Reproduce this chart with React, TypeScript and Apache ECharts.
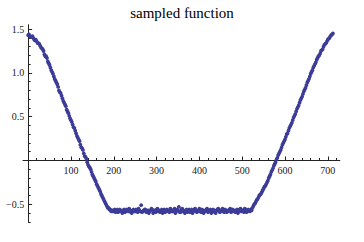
import React, { useEffect, useRef } from "react";
import * as echarts from "echarts";

const TITLE = "sampled function";

// first set of samples
const xValuesA = [
  0, 4, 8, 12, 16, 20, 24, 28, 32, 36, 40, 44, 48, 52, 56, 60, 64, 68, 72, 76,
  80, 84, 88, 92, 96, 100, 104, 108, 112, 116, 120, 124, 128, 132, 136, 140, 144, 148, 152, 156,
  160, 164, 168, 172, 176, 180, 184, 188, 192, 196, 200, 204, 208, 212, 216, 220, 224, 228, 232, 236,
  240, 244, 248, 252, 256, 260, 264, 268, 272, 276, 280, 284, 288, 292, 296, 300, 304, 308, 312, 316,
  320, 324, 328, 332, 336, 340, 344, 348, 352, 356, 360, 364, 368, 372, 376, 380, 384, 388, 392, 396,
  400, 404, 408, 412, 416, 420, 424, 428, 432, 436, 440, 444, 448, 452, 456, 460, 464, 468, 472, 476,
  480, 484, 488, 492, 496, 500, 504, 508, 512, 516, 520, 524, 528, 532, 536, 540, 544, 548, 552, 556,
  560, 564, 568, 572, 576, 580, 584, 588, 592, 596, 600, 604, 608, 612, 616, 620, 624, 628, 632, 636,
  640, 644, 648, 652, 656, 660, 664, 668, 672, 676, 680, 684, 688, 692, 696, 700, 704, 708, 712,
];
const yValuesA = [
  1.43, 1.42, 1.41, 1.40, 1.37, 1.36, 1.34, 1.31, 1.28, 1.25, 1.19, 1.17, 1.11, 1.06, 1.01, 0.96, 0.91, 0.87, 0.80, 0.77,
  0.71, 0.66, 0.62, 0.56, 0.51, 0.46, 0.41, 0.37, 0.31, 0.26, 0.22, 0.15, 0.12, 0.05, 0.02, -0.05, -0.08, -0.13, -0.18, -0.22,
  -0.27, -0.31, -0.35, -0.40, -0.44, -0.48, -0.52, -0.54, -0.56, -0.57, -0.57, -0.59, -0.56, -0.58, -0.57, -0.60, -0.56, -0.58, -0.57, -0.55,
  -0.59, -0.57, -0.58, -0.56, -0.59, -0.57, -0.51, -0.58, -0.56, -0.59, -0.57, -0.58, -0.55, -0.60, -0.57, -0.56, -0.58, -0.59, -0.56, -0.57,
  -0.59, -0.56, -0.58, -0.55, -0.58, -0.57, -0.60, -0.56, -0.53, -0.59, -0.55, -0.58, -0.57, -0.59, -0.56, -0.58, -0.60, -0.56, -0.57, -0.58,
  -0.55, -0.59, -0.57, -0.58, -0.56, -0.59, -0.57, -0.60, -0.56, -0.58, -0.57, -0.55, -0.59, -0.57, -0.58, -0.56, -0.59, -0.57, -0.55, -0.58,
  -0.57, -0.59, -0.56, -0.58, -0.55, -0.57, -0.59, -0.56, -0.58, -0.57, -0.56, -0.54, -0.50, -0.47, -0.44, -0.40, -0.38, -0.34, -0.30, -0.27,
  -0.23, -0.18, -0.13, -0.09, -0.04, 0.01, 0.06, 0.10, 0.15, 0.20, 0.24, 0.30, 0.34, 0.39, 0.43, 0.49, 0.53, 0.59, 0.63, 0.69,
  0.73, 0.79, 0.83, 0.89, 0.93, 0.99, 1.03, 1.08, 1.12, 1.17, 1.20, 1.25, 1.27, 1.32, 1.34, 1.38, 1.40, 1.43, 1.45,
];

// second, interleaved set of samples
const xValuesB = [
  2, 6, 10, 14, 18, 22, 26, 30, 34, 38, 42, 46, 50, 54, 58, 62, 66, 70, 74, 78,
  82, 86, 90, 94, 98, 102, 106, 110, 114, 118, 122, 126, 130, 134, 138, 142, 146, 150, 154, 158,
  162, 166, 170, 174, 178, 182, 186, 190, 194, 198, 202, 206, 210, 214, 218, 222, 226, 230, 234, 238,
  242, 246, 250, 254, 258, 262, 266, 270, 274, 278, 282, 286, 290, 294, 298, 302, 306, 310, 314, 318,
  322, 326, 330, 334, 338, 342, 346, 350, 354, 358, 362, 366, 370, 374, 378, 382, 386, 390, 394, 398,
  402, 406, 410, 414, 418, 422, 426, 430, 434, 438, 442, 446, 450, 454, 458, 462, 466, 470, 474, 478,
  482, 486, 490, 494, 498, 502, 506, 510, 514, 518, 522, 526, 530, 534, 538, 542, 546, 550, 554, 558,
  562, 566, 570, 574, 578, 582, 586, 590, 594, 598, 602, 606, 610, 614, 618, 622, 626, 630, 634, 638,
  642, 646, 650, 654, 658, 662, 666, 670, 674, 678, 682, 686, 690, 694, 698, 702, 706, 710,
];
const yValuesB = [
  1.44, 1.41, 1.42, 1.38, 1.38, 1.34, 1.33, 1.29, 1.27, 1.21, 1.19, 1.13, 1.09, 1.03, 0.99, 0.93, 0.89, 0.84, 0.78, 0.74,
  0.68, 0.64, 0.58, 0.54, 0.48, 0.44, 0.38, 0.34, 0.28, 0.24, 0.18, 0.14, 0.08, 0.04, -0.02, -0.07, -0.10, -0.16, -0.20, -0.24,
  -0.29, -0.33, -0.38, -0.42, -0.46, -0.50, -0.54, -0.56, -0.58, -0.58, -0.56, -0.58, -0.59, -0.56, -0.58, -0.57, -0.59, -0.56, -0.58, -0.57,
  -0.60, -0.56, -0.58, -0.57, -0.55, -0.58, -0.59, -0.57, -0.56, -0.58, -0.60, -0.57, -0.56, -0.58, -0.59, -0.55, -0.57, -0.58, -0.60, -0.56,
  -0.58, -0.57, -0.59, -0.56, -0.58, -0.55, -0.58, -0.57, -0.59, -0.56, -0.58, -0.60, -0.56, -0.57, -0.59, -0.56, -0.58, -0.55, -0.59, -0.57,
  -0.58, -0.56, -0.60, -0.57, -0.55, -0.58, -0.56, -0.59, -0.57, -0.60, -0.56, -0.58, -0.57, -0.55, -0.59, -0.57, -0.58, -0.56, -0.59, -0.56,
  -0.58, -0.57, -0.60, -0.56, -0.58, -0.57, -0.55, -0.59, -0.56, -0.58, -0.57, -0.52, -0.49, -0.45, -0.42, -0.39, -0.36, -0.32, -0.29, -0.25,
  -0.20, -0.16, -0.11, -0.06, -0.02, 0.03, 0.08, 0.12, 0.18, 0.22, 0.27, 0.31, 0.37, 0.41, 0.46, 0.51, 0.56, 0.61, 0.66, 0.71,
  0.76, 0.81, 0.86, 0.91, 0.96, 1.01, 1.06, 1.10, 1.15, 1.19, 1.22, 1.26, 1.30, 1.33, 1.36, 1.39, 1.42, 1.44,
];

const xMajorTicks = [100, 200, 300, 400, 500, 600, 700];
const xMinorTicks = [
  20, 40, 60, 80, 120, 140, 160, 180, 220, 240, 260, 280, 320, 340, 360, 380,
  420, 440, 460, 480, 520, 540, 560, 580, 620, 640, 660, 680, 720,
];
const yMajorTicks = [-0.5, 0.5, 1.0, 1.5];
const yMinorTicks = [
  -0.7, -0.6, -0.4, -0.3, -0.2, -0.1, 0.1, 0.2, 0.3, 0.4, 0.6, 0.7, 0.8, 0.9, 1.1, 1.2, 1.3, 1.4,
];

const X_MIN = -12;
const X_MAX = 728;
const Y_MIN = -0.7;
const Y_MAX = 1.55;

const AXIS_COLOR = "#222";
const POINT_COLOR = "#3c3c98";
const FONT = "'Liberation Serif', 'Times New Roman', serif";

const W = 364;
const H = 242;
const GRID = { left: 23, right: 24.2, top: 24.7, bottom: 20.2 };

export default function App() {
  const ref = useRef<HTMLDivElement>(null);

  useEffect(() => {
    if (!ref.current) return;
    const chart = echarts.init(ref.current, undefined, { renderer: "svg" });
    const points = [
      ...xValuesA.map((x, i) => [x, yValuesA[i]]),
      ...xValuesB.map((x, i) => [x, yValuesB[i]]),
    ];
    const fmtY = (v: number) => (v < 0 ? "\u2212" + Math.abs(v).toFixed(1) : v.toFixed(1));

    // place the axes where the other axis is zero (as in the reference)
    const gridW = W - GRID.left - GRID.right;
    const gridH = H - GRID.top - GRID.bottom;
    const xOffset = -(gridH * (0 - Y_MIN)) / (Y_MAX - Y_MIN); // move bottom axis up to y=0
    const yOffset = -(gridW * (0 - X_MIN)) / (X_MAX - X_MIN); // move left axis right to x=0

    chart.setOption({
      animation: false,
      backgroundColor: "#fff",
      title: {
        text: TITLE,
        left: "center",
        top: 0,
        textStyle: { fontFamily: FONT, fontSize: 15, fontWeight: "normal", color: "#000" },
      },
      grid: { ...GRID, containLabel: false },
      xAxis: [
        {
          type: "value",
          min: X_MIN,
          max: X_MAX,
          position: "bottom",
          offset: xOffset,
          axisLine: { show: true, onZero: false, lineStyle: { color: AXIS_COLOR, width: 1 } },
          axisTick: { show: true, inside: true, length: 4, customValues: xMajorTicks, lineStyle: { color: AXIS_COLOR } },
          axisLabel: {
            show: true,
            customValues: xMajorTicks,
            margin: 5,
            fontFamily: FONT,
            fontSize: 10,
            color: "#222",
          },
          splitLine: { show: false },
        },
        {
          type: "value",
          min: X_MIN,
          max: X_MAX,
          position: "bottom",
          offset: xOffset,
          axisLine: { show: false, onZero: false },
          axisTick: { show: true, inside: true, length: 2.5, customValues: xMinorTicks, lineStyle: { color: AXIS_COLOR } },
          axisLabel: { show: false },
          splitLine: { show: false },
        },
      ],
      yAxis: [
        {
          type: "value",
          min: Y_MIN,
          max: Y_MAX,
          position: "left",
          offset: yOffset,
          axisLine: { show: true, onZero: false, lineStyle: { color: AXIS_COLOR, width: 1 } },
          axisTick: { show: true, inside: true, length: 4, customValues: yMajorTicks, lineStyle: { color: AXIS_COLOR } },
          axisLabel: {
            show: true,
            customValues: yMajorTicks,
            margin: 4,
            fontFamily: FONT,
            fontSize: 10,
            color: "#222",
            formatter: fmtY,
          },
          splitLine: { show: false },
        },
        {
          type: "value",
          min: Y_MIN,
          max: Y_MAX,
          position: "left",
          offset: yOffset,
          axisLine: { show: false, onZero: false },
          axisTick: { show: true, inside: true, length: 2.5, customValues: yMinorTicks, lineStyle: { color: AXIS_COLOR } },
          axisLabel: { show: false },
          splitLine: { show: false },
        },
      ],
      series: [
        {
          type: "scatter",
          xAxisIndex: 0,
          yAxisIndex: 0,
          data: points,
          symbol: "circle",
          symbolSize: 3.8,
          itemStyle: { color: POINT_COLOR, opacity: 1 },
        },
      ],
    });

    return () => chart.dispose();
  }, []);

  return <div ref={ref} style={{ width: W, height: H, position: "absolute", left: 0, top: 0 }} />;
}
